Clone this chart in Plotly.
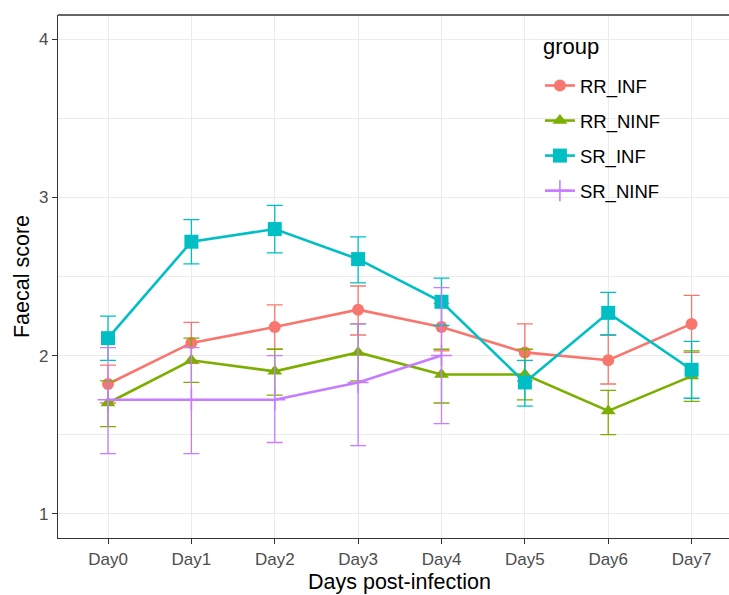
import plotly.graph_objects as go

days = ["Day0", "Day1", "Day2", "Day3", "Day4", "Day5", "Day6", "Day7"]
groups = ["RR_INF", "RR_NINF", "SR_INF", "SR_NINF"]

rr_inf_mean = [1.82, 2.08, 2.18, 2.29, 2.18, 2.02, 1.97, 2.20]
rr_inf_upper = [1.94, 2.21, 2.32, 2.44, 2.33, 2.20, 2.13, 2.38]
rr_inf_lower = [1.70, 1.95, 2.04, 2.13, 2.03, 1.84, 1.82, 2.02]

rr_ninf_mean = [1.70, 1.97, 1.90, 2.02, 1.88, 1.88, 1.65, 1.87]
rr_ninf_upper = [1.84, 2.11, 2.04, 2.20, 2.04, 2.04, 1.78, 2.03]
rr_ninf_lower = [1.55, 1.83, 1.75, 1.84, 1.70, 1.72, 1.50, 1.71]

sr_inf_mean = [2.11, 2.72, 2.80, 2.61, 2.34, 1.83, 2.27, 1.91]
sr_inf_upper = [2.25, 2.86, 2.95, 2.75, 2.49, 1.97, 2.40, 2.09]
sr_inf_lower = [1.97, 2.58, 2.65, 2.46, 2.19, 1.68, 2.13, 1.73]

sr_ninf_days = ["Day0", "Day1", "Day2", "Day3", "Day4"]
sr_ninf_mean = [1.72, 1.72, 1.72, 1.83, 2.00]
sr_ninf_upper = [2.05, 2.05, 2.00, 2.20, 2.43]
sr_ninf_lower = [1.38, 1.38, 1.45, 1.43, 1.57]

y_ticks = [1, 2, 3, 4]

colors = ["#F8766D", "#7CAE00", "#00BFC4", "#C77CFF"]
symbols = ["circle", "triangle-up", "square", "cross-thin"]
sizes = [12, 13, 14, 15]

series = [
    (days, rr_inf_mean, rr_inf_upper, rr_inf_lower),
    (days, rr_ninf_mean, rr_ninf_upper, rr_ninf_lower),
    (days, sr_inf_mean, sr_inf_upper, sr_inf_lower),
    (sr_ninf_days, sr_ninf_mean, sr_ninf_upper, sr_ninf_lower),
]

FONT = "Liberation Sans, Arial, sans-serif"

fig = go.Figure()
for i, (x, m, up, lo) in enumerate(series):
    fig.add_trace(go.Scatter(
        x=x, y=m, name=groups[i], mode="lines+markers",
        legendgroup=groups[i],
        line=dict(color=colors[i], width=2.6),
        marker=dict(symbol=symbols[i], size=sizes[i], color=colors[i],
                    line=dict(color=colors[i], width=1.6 if i == 3 else 0)),
        error_y=dict(type="data", symmetric=False,
                     array=[u - v for u, v in zip(up, m)],
                     arrayminus=[v - l for v, l in zip(m, lo)],
                     color=colors[i], thickness=1.3, width=8),
    ))

panel_left = 58.3
panel_top = 15
panel_bottom = 538.3
W, H = 729, 595
dom_w = W - panel_left
dom_h = panel_bottom - panel_top
# x range so that the panel is cut off at the image edge like the reference
x_right = (W - 108.3) / 83.33


def px(xp):
    return (xp - panel_left) / dom_w


def py(yp):
    return 1 - (yp - panel_top) / dom_h


fig.update_layout(
    width=W, height=H,
    margin=dict(l=panel_left, r=0, t=panel_top, b=H - panel_bottom),
    plot_bgcolor="white", paper_bgcolor="white",
    font=dict(family=FONT, color="#4D4D4D", size=17),
    showlegend=True,
    legend=dict(
        x=px(540), y=py(67),
        xanchor="left", yanchor="top",
        bgcolor="rgba(0,0,0,0)", borderwidth=0,
        font=dict(size=18.5, color="black", family=FONT),
        itemwidth=30, tracegroupgap=8,
    ),
    xaxis=dict(
        type="category", categoryorder="array", categoryarray=days,
        range=[-0.6, x_right],
        showgrid=True, gridcolor="#EBEBEB", gridwidth=1.1,
        showline=True, linecolor="#333333", linewidth=1.3,
        ticks="outside", ticklen=5, tickcolor="#333333", tickwidth=1.1,
        tickfont=dict(size=17, color="#4D4D4D"),
        zeroline=False,
    ),
    yaxis=dict(
        range=[0.846, 4.154], tickvals=y_ticks,
        showgrid=True, gridcolor="#EBEBEB", gridwidth=1.1,
        minor=dict(dtick=0.5, showgrid=True, gridcolor="#EBEBEB", gridwidth=0.6),
        showline=True, linecolor="#333333", linewidth=1.3,
        ticks="outside", ticklen=5, tickcolor="#333333", tickwidth=1.1,
        tickfont=dict(size=17, color="#4D4D4D"),
        title=dict(text="Faecal score", font=dict(size=21.5, color="black"), standoff=3),
        zeroline=False,
    ),
    shapes=[
        dict(type="line", xref="paper", yref="paper", x0=0, x1=1.05, y0=1, y1=1,
             line=dict(color="#333333", width=1.3)),
        dict(type="rect", xref="paper", yref="paper", layer="between",
             x0=px(527), x1=px(679), y0=py(206), y1=py(27),
             fillcolor="white", line=dict(width=0)),
    ],
    annotations=[
        dict(text="Days post-infection", xref="paper", yref="paper",
             x=px(400), y=py(582), xanchor="center", yanchor="middle",
             showarrow=False, font=dict(size=21.5, color="black", family=FONT)),
        dict(text="group", xref="paper", yref="paper",
             x=px(541), y=py(47), xanchor="left", yanchor="middle",
             showarrow=False, font=dict(size=22, color="black", family=FONT)),
    ],
)

fig.write_html("out.html")
